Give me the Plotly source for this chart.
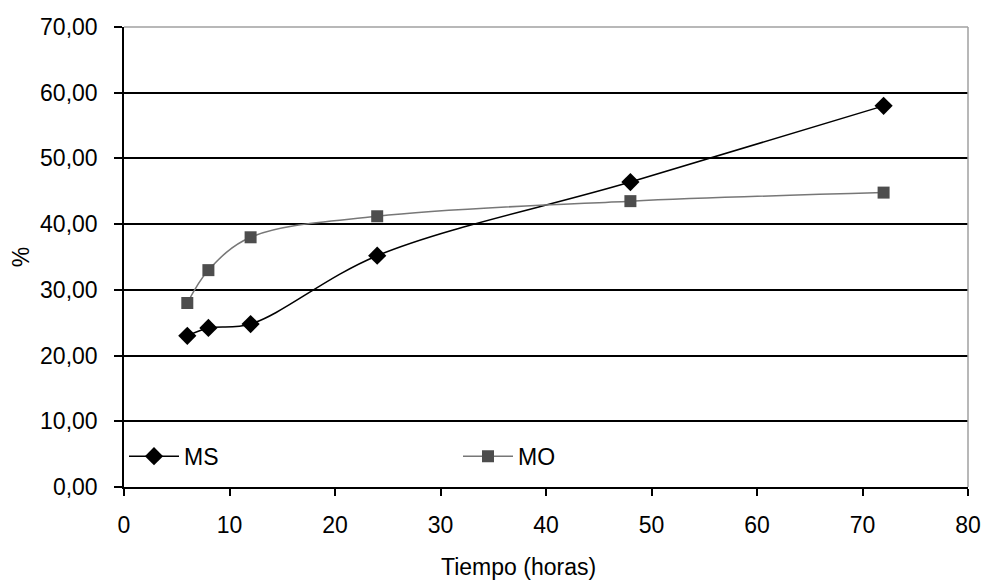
import plotly.graph_objects as go

hours = [6, 8, 12, 24, 48, 72]
ms_values = [23.0, 24.2, 24.8, 35.2, 46.4, 58.0]
mo_values = [28.0, 33.0, 38.0, 41.2, 43.5, 44.8]

FONT = dict(family="Liberation Sans, Arial, sans-serif", size=23, color="#000000")

fig = go.Figure()
fig.add_trace(go.Scatter(
    x=hours, y=ms_values, name="MS", mode="lines+markers",
    line=dict(color="#000000", width=1.5, shape="spline", smoothing=1),
    marker=dict(symbol="diamond", size=14, color="#000000"),
))
fig.add_trace(go.Scatter(
    x=hours, y=mo_values, name="MO", mode="lines+markers",
    line=dict(color="#777777", width=1.5, shape="spline", smoothing=1),
    marker=dict(symbol="square", size=12, color="#4d4d4d"),
))

fig.update_layout(
    width=982, height=585,
    margin=dict(l=124, r=14, t=27, b=98),
    paper_bgcolor="white", plot_bgcolor="white",
    font=FONT,
    separators=", ",
    showlegend=True,
    legend=dict(orientation="h", x=0, xanchor="left", y=0.067, yanchor="middle",
                bgcolor="rgba(0,0,0,0)", font=FONT, entrywidth=269,
                entrywidthmode="pixels", itemwidth=50, tracegroupgap=0),
    xaxis=dict(range=[0, 80], tickvals=[0, 10, 20, 30, 40, 50, 60, 70, 80],
               automargin=False,
               showgrid=False, zeroline=False, showline=True, linecolor="#000000",
               linewidth=1.5, ticks="outside", ticklen=7, tickcolor="#000000",
               tickwidth=1.5, ticklabelstandoff=10),
    yaxis=dict(range=[0, 70], tickvals=[0, 10, 20, 30, 40, 50, 60, 70],
               automargin=False,
               tickformat=".2f", showgrid=True, gridcolor="#000000", gridwidth=1.5,
               zeroline=False, showline=True, linecolor="#000000", linewidth=1.5,
               ticks="outside", ticklen=8, tickcolor="#000000", tickwidth=1.5,
               ticklabelstandoff=12,
               title=dict(text="%", standoff=4, font=FONT)),
)

# x-axis title (sits slightly left of the plot centre in the reference)
fig.add_annotation(text="Tiempo (horas)", xref="paper", yref="paper",
                   x=0.467, y=-0.173, xanchor="center", yanchor="middle",
                   showarrow=False, font=FONT)

# gray frame on top and right of plot area
fig.add_shape(type="line", xref="paper", yref="paper", x0=0, x1=1, y0=1, y1=1,
              line=dict(color="#a0a0a0", width=1.5), layer="above")
fig.add_shape(type="line", xref="paper", yref="paper", x0=1, x1=1, y0=0, y1=1,
              line=dict(color="#a0a0a0", width=1.5), layer="above")

fig.write_html("out.html")
